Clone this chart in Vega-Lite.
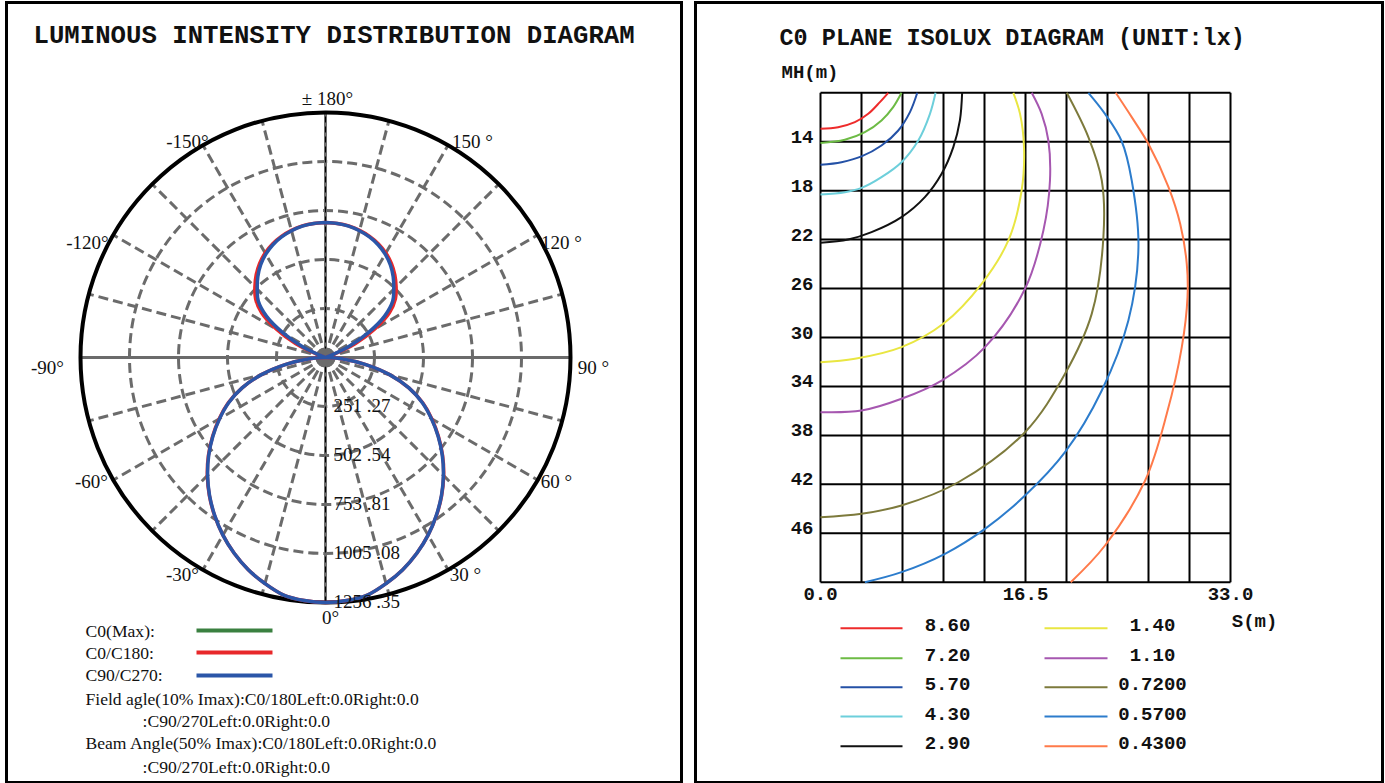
{
"$schema": "https://vega.github.io/schema/vega-lite/v6.json",
"background": "white",
"padding": {"left": 4.5, "top": 0.5, "right": 1.5, "bottom": 0},
"spacing": 10,
"resolve": {"scale": {"color": "independent", "size": "independent"}},
"config": {"view": {"stroke": "#000", "strokeWidth": 3}},
"datasets": {
"lobes": [
{"s":"B","a":-180,"cd":692},{"s":"B","a":-175,"cd":690},{"s":"B","a":-170,"cd":684},{"s":"B","a":-165,"cd":673},{"s":"B","a":-160,"cd":658},{"s":"B","a":-155,"cd":638},{"s":"B","a":-150,"cd":612},{"s":"B","a":-145,"cd":580},{"s":"B","a":-140,"cd":540},{"s":"B","a":-135,"cd":495},{"s":"B","a":-130,"cd":450},{"s":"B","a":-125,"cd":370},{"s":"B","a":-120,"cd":250},{"s":"B","a":-115,"cd":125},{"s":"B","a":-110,"cd":5},{"s":"B","a":-105,"cd":0},{"s":"B","a":-100,"cd":0},{"s":"B","a":-95,"cd":0},{"s":"B","a":-90,"cd":10},{"s":"B","a":-85,"cd":90},{"s":"B","a":-80,"cd":210},{"s":"B","a":-75,"cd":340},{"s":"B","a":-70,"cd":455},{"s":"B","a":-65,"cd":548},{"s":"B","a":-60,"cd":627},{"s":"B","a":-55,"cd":705},{"s":"B","a":-50,"cd":782},{"s":"B","a":-45,"cd":855},{"s":"B","a":-40,"cd":925},{"s":"B","a":-35,"cd":990},{"s":"B","a":-30,"cd":1052},{"s":"B","a":-25,"cd":1108},{"s":"B","a":-20,"cd":1158},{"s":"B","a":-15,"cd":1200},{"s":"B","a":-10,"cd":1237},{"s":"B","a":-5,"cd":1251},
{"s":"B","a":0,"cd":1256.35},{"s":"B","a":5,"cd":1251},{"s":"B","a":10,"cd":1237},{"s":"B","a":15,"cd":1200},{"s":"B","a":20,"cd":1158},{"s":"B","a":25,"cd":1108},{"s":"B","a":30,"cd":1052},{"s":"B","a":35,"cd":990},{"s":"B","a":40,"cd":925},{"s":"B","a":45,"cd":855},{"s":"B","a":50,"cd":782},{"s":"B","a":55,"cd":705},{"s":"B","a":60,"cd":627},{"s":"B","a":65,"cd":548},{"s":"B","a":70,"cd":455},{"s":"B","a":75,"cd":340},{"s":"B","a":80,"cd":210},{"s":"B","a":85,"cd":90},{"s":"B","a":90,"cd":10},{"s":"B","a":95,"cd":0},{"s":"B","a":100,"cd":0},{"s":"B","a":105,"cd":0},{"s":"B","a":110,"cd":5},{"s":"B","a":115,"cd":125},{"s":"B","a":120,"cd":250},{"s":"B","a":125,"cd":370},{"s":"B","a":130,"cd":450},{"s":"B","a":135,"cd":495},{"s":"B","a":140,"cd":540},{"s":"B","a":145,"cd":580},{"s":"B","a":150,"cd":612},{"s":"B","a":155,"cd":638},{"s":"B","a":160,"cd":658},{"s":"B","a":165,"cd":673},{"s":"B","a":170,"cd":684},{"s":"B","a":175,"cd":690},{"s":"B","a":180,"cd":692},
{"s":"R","a":-180,"cd":692},{"s":"R","a":-175,"cd":690},{"s":"R","a":-170,"cd":685},{"s":"R","a":-165,"cd":675},{"s":"R","a":-160,"cd":661},{"s":"R","a":-155,"cd":643},{"s":"R","a":-150,"cd":619},{"s":"R","a":-145,"cd":589},{"s":"R","a":-140,"cd":553},{"s":"R","a":-135,"cd":512},{"s":"R","a":-130,"cd":468},{"s":"R","a":-125,"cd":400},{"s":"R","a":-120,"cd":290},{"s":"R","a":-115,"cd":170},{"s":"R","a":-110,"cd":35},{"s":"R","a":-105,"cd":3},{"s":"R","a":-100,"cd":0},{"s":"R","a":-95,"cd":0},{"s":"R","a":-90,"cd":10},{"s":"R","a":-85,"cd":90},{"s":"R","a":-80,"cd":210},{"s":"R","a":-75,"cd":340},{"s":"R","a":-70,"cd":455},{"s":"R","a":-65,"cd":550},{"s":"R","a":-60,"cd":630},{"s":"R","a":-55,"cd":707},{"s":"R","a":-50,"cd":784},{"s":"R","a":-45,"cd":857},{"s":"R","a":-40,"cd":926},{"s":"R","a":-35,"cd":991},{"s":"R","a":-30,"cd":1052},{"s":"R","a":-25,"cd":1108},{"s":"R","a":-20,"cd":1158},{"s":"R","a":-15,"cd":1200},{"s":"R","a":-10,"cd":1237},{"s":"R","a":-5,"cd":1251},
{"s":"R","a":0,"cd":1256.35},{"s":"R","a":5,"cd":1251},{"s":"R","a":10,"cd":1237},{"s":"R","a":15,"cd":1200},{"s":"R","a":20,"cd":1158},{"s":"R","a":25,"cd":1108},{"s":"R","a":30,"cd":1052},{"s":"R","a":35,"cd":991},{"s":"R","a":40,"cd":926},{"s":"R","a":45,"cd":857},{"s":"R","a":50,"cd":784},{"s":"R","a":55,"cd":707},{"s":"R","a":60,"cd":630},{"s":"R","a":65,"cd":550},{"s":"R","a":70,"cd":455},{"s":"R","a":75,"cd":340},{"s":"R","a":80,"cd":210},{"s":"R","a":85,"cd":90},{"s":"R","a":90,"cd":10},{"s":"R","a":95,"cd":0},{"s":"R","a":100,"cd":0},{"s":"R","a":105,"cd":3},{"s":"R","a":110,"cd":35},{"s":"R","a":115,"cd":170},{"s":"R","a":120,"cd":290},{"s":"R","a":125,"cd":400},{"s":"R","a":130,"cd":468},{"s":"R","a":135,"cd":512},{"s":"R","a":140,"cd":553},{"s":"R","a":145,"cd":589},{"s":"R","a":150,"cd":619},{"s":"R","a":155,"cd":643},{"s":"R","a":160,"cd":661},{"s":"R","a":165,"cd":675},{"s":"R","a":170,"cd":685},{"s":"R","a":175,"cd":690},{"s":"R","a":180,"cd":692}
]
},
"hconcat": [
{
"width": 675, "height": 780,
"layer": [
{
"data": {"values": [{"r":251.27,"cx":0,"cy":0},{"r":502.54,"cx":0,"cy":0},{"r":753.81,"cx":0,"cy":0},{"r":1005.08,"cx":0,"cy":0}]},
"mark": {"type": "point", "shape": "circle", "filled": false, "stroke": "#6b6b6b", "strokeWidth": 3, "strokeDash": [10, 5], "opacity": 1},
"encoding": {
"x": {"field": "cx", "type": "quantitative", "axis": null, "scale": {"domain": [-1635.8, 1825.5], "nice": false, "zero": false}},
"y": {"field": "cy", "type": "quantitative", "axis": null, "scale": {"domain": [-2179.4, 1820.4], "nice": false, "zero": false}},
"size": {"field": "r", "type": "quantitative", "legend": null, "scale": {"type": "pow", "exponent": 2, "domain": [0, 1256.35], "range": [0, 240100]}}
}
},
{
"data": {"values": [{"a":15},{"a":30},{"a":45},{"a":60},{"a":75},{"a":105},{"a":120},{"a":135},{"a":150},{"a":165},{"a":195},{"a":210},{"a":225},{"a":240},{"a":255},{"a":285},{"a":300},{"a":315},{"a":330},{"a":345}]},
"transform": [
{"calculate": "1256.35*sin(datum.a*PI/180)", "as": "sx"},
{"calculate": "-1256.35*cos(datum.a*PI/180)", "as": "sy"},
{"calculate": "0", "as": "o"}
],
"mark": {"type": "rule", "stroke": "#6b6b6b", "strokeWidth": 3, "strokeDash": [10, 5]},
"encoding": {
"x": {"field": "o", "type": "quantitative", "axis": null, "scale": {"domain": [-1635.8, 1825.5], "nice": false, "zero": false}},
"y": {"field": "o", "type": "quantitative", "axis": null, "scale": {"domain": [-2179.4, 1820.4], "nice": false, "zero": false}},
"x2": {"field": "sx"},
"y2": {"field": "sy"}
}
},
{
"data": {"values": [{"x1": -1256.35, "x2": 1256.35, "y1": 0, "y2": 0}, {"x1": 0, "x2": 0, "y1": -1256.35, "y2": 1256.35}]},
"mark": {"type": "rule", "stroke": "#6b6b6b", "strokeWidth": 3},
"encoding": {
"x": {"field": "x1", "type": "quantitative", "axis": null, "scale": {"domain": [-1635.8, 1825.5], "nice": false, "zero": false}},
"y": {"field": "y1", "type": "quantitative", "axis": null, "scale": {"domain": [-2179.4, 1820.4], "nice": false, "zero": false}},
"x2": {"field": "x2"},
"y2": {"field": "y2"}
}
},
{
"data": {"values": [{"x1": 0, "x2": 0, "y1": -1256.35, "y2": 1256.35}]},
"mark": {"type": "rule", "stroke": "#000", "strokeWidth": 1, "strokeDash": [6, 4]},
"encoding": {
"x": {"field": "x1", "type": "quantitative", "axis": null, "scale": {"domain": [-1635.8, 1825.5], "nice": false, "zero": false}},
"y": {"field": "y1", "type": "quantitative", "axis": null, "scale": {"domain": [-2179.4, 1820.4], "nice": false, "zero": false}},
"x2": {"field": "x2"},
"y2": {"field": "y2"}
}
},
{
"data": {"values": [{"r":1256.35,"cx":0,"cy":0}]},
"mark": {"type": "point", "shape": "circle", "filled": false, "stroke": "#000", "strokeWidth": 4, "opacity": 1},
"encoding": {
"x": {"field": "cx", "type": "quantitative", "axis": null, "scale": {"domain": [-1635.8, 1825.5], "nice": false, "zero": false}},
"y": {"field": "cy", "type": "quantitative", "axis": null, "scale": {"domain": [-2179.4, 1820.4], "nice": false, "zero": false}},
"size": {"field": "r", "type": "quantitative", "legend": null, "scale": {"type": "pow", "exponent": 2, "domain": [0, 1256.35], "range": [0, 240100]}}
}
},
{
"data": {"values": [{"cx": 0, "cy": 0}]},
"mark": {"type": "point", "shape": "circle", "filled": true, "fill": "#6b6b6b", "size": 320, "opacity": 1},
"encoding": {
"x": {"field": "cx", "type": "quantitative", "axis": null, "scale": {"domain": [-1635.8, 1825.5], "nice": false, "zero": false}},
"y": {"field": "cy", "type": "quantitative", "axis": null, "scale": {"domain": [-2179.4, 1820.4], "nice": false, "zero": false}}
}
},
{
"data": {"name": "lobes"},
"transform": [
{"filter": "datum.s == 'R'"},
{"calculate": "datum.cd*sin(datum.a*PI/180)", "as": "x"},
{"calculate": "-datum.cd*cos(datum.a*PI/180)", "as": "y"}
],
"mark": {"type": "line", "stroke": "#e8282a", "strokeWidth": 3.5, "interpolate": "catmull-rom"},
"encoding": {
"x": {"field": "x", "type": "quantitative", "axis": null, "scale": {"domain": [-1635.8, 1825.5], "nice": false, "zero": false}},
"y": {"field": "y", "type": "quantitative", "axis": null, "scale": {"domain": [-2179.4, 1820.4], "nice": false, "zero": false}},
"order": {"field": "a", "type": "quantitative"}
}
},
{
"data": {"name": "lobes"},
"transform": [
{"filter": "datum.s == 'B'"},
{"calculate": "datum.cd*sin(datum.a*PI/180)", "as": "x"},
{"calculate": "-datum.cd*cos(datum.a*PI/180)", "as": "y"}
],
"mark": {"type": "line", "stroke": "#2b56a8", "strokeWidth": 3.5, "interpolate": "catmull-rom"},
"encoding": {
"x": {"field": "x", "type": "quantitative", "axis": null, "scale": {"domain": [-1635.8, 1825.5], "nice": false, "zero": false}},
"y": {"field": "y", "type": "quantitative", "axis": null, "scale": {"domain": [-2179.4, 1820.4], "nice": false, "zero": false}},
"order": {"field": "a", "type": "quantitative"}
}
},
{
"data": {"values": [
{"t":"± 180°","x":10.3,"y":1328.1},{"t":"150 °","x":753.8,"y":1107.6},{"t":"-150°","x":-707.7,"y":1107.6},
{"t":"120 °","x":1210.2,"y":584.6},{"t":"-120°","x":-1220.4,"y":584.6},{"t":"90 °","x":1374.3,"y":-56.4},
{"t":"-90°","x":-1425.6,"y":-56.4},{"t":"60 °","x":1184.6,"y":-641.0},{"t":"-60°","x":-1200.0,"y":-641.0},
{"t":"30 °","x":717.9,"y":-1117.9},{"t":"-30°","x":-733.3,"y":-1117.9},{"t":"0°","x":25.6,"y":-1333.3}
]},
"mark": {"type": "text", "font": "Liberation Serif", "fontSize": 19, "align": "center", "baseline": "middle", "color": "#111"},
"encoding": {
"x": {"field": "x", "type": "quantitative", "axis": null, "scale": {"domain": [-1635.8, 1825.5], "nice": false, "zero": false}},
"y": {"field": "y", "type": "quantitative", "axis": null, "scale": {"domain": [-2179.4, 1820.4], "nice": false, "zero": false}},
"text": {"field": "t"}
}
},
{
"data": {"values": [{"t":"251 .27","r":251.27},{"t":"502 .54","r":502.54},{"t":"753 .81","r":753.81},{"t":"1005 .08","r":1005.08},{"t":"1256 .35","r":1256.35}]},
"transform": [{"calculate": "-datum.r", "as": "y"}, {"calculate": "41", "as": "x"}],
"mark": {"type": "text", "font": "Liberation Serif", "fontSize": 19, "align": "left", "baseline": "middle", "color": "#111"},
"encoding": {
"x": {"field": "x", "type": "quantitative", "axis": null, "scale": {"domain": [-1635.8, 1825.5], "nice": false, "zero": false}},
"y": {"field": "y", "type": "quantitative", "axis": null, "scale": {"domain": [-2179.4, 1820.4], "nice": false, "zero": false}},
"text": {"field": "t"}
}
},
{
"data": {"values": [{"t":"LUMINOUS INTENSITY DISTRIBUTION DIAGRAM","x":-1497.4,"y":1656.3}]},
"mark": {"type": "text", "font": "Liberation Mono", "fontWeight": "bold", "fontSize": 25.7, "align": "left", "baseline": "middle", "color": "#111"},
"encoding": {
"x": {"field": "x", "type": "quantitative", "axis": null, "scale": {"domain": [-1635.8, 1825.5], "nice": false, "zero": false}},
"y": {"field": "y", "type": "quantitative", "axis": null, "scale": {"domain": [-2179.4, 1820.4], "nice": false, "zero": false}},
"text": {"field": "t"}
}
},
{
"data": {"values": [
{"k":"C0(Max)","x1":-661.5,"x2":-271.8,"y":-1399.9},
{"k":"C0/C180","x1":-661.5,"x2":-271.8,"y":-1512.7},
{"k":"C90/C270","x1":-661.5,"x2":-271.8,"y":-1630.7}
]},
"mark": {"type": "rule", "strokeWidth": 4},
"encoding": {
"x": {"field": "x1", "type": "quantitative", "axis": null, "scale": {"domain": [-1635.8, 1825.5], "nice": false, "zero": false}},
"y": {"field": "y", "type": "quantitative", "axis": null, "scale": {"domain": [-2179.4, 1820.4], "nice": false, "zero": false}},
"x2": {"field": "x2"},
"color": {"field": "k", "type": "nominal", "legend": null, "scale": {"domain": ["C0(Max)", "C0/C180", "C90/C270"], "range": ["#3a8040", "#e8282a", "#2b56a8"]}}
}
},
{
"data": {"values": [
{"t":"C0(Max):","x":-1230.7,"y":-1410.2},
{"t":"C0/C180:","x":-1230.7,"y":-1517.9},
{"t":"C90/C270:","x":-1230.7,"y":-1635.8},
{"t":"Field agle(10% Imax):C0/180Left:0.0Right:0.0","x":-1230.7,"y":-1753.8},
{"t":":C90/270Left:0.0Right:0.0","x":-938.4,"y":-1866.6},
{"t":"Beam Angle(50% Imax):C0/180Left:0.0Right:0.0","x":-1230.7,"y":-1984.5},
{"t":":C90/270Left:0.0Right:0.0","x":-938.4,"y":-2102.5}
]},
"mark": {"type": "text", "font": "Liberation Serif", "fontSize": 17.6, "align": "left", "baseline": "middle", "color": "#111"},
"encoding": {
"x": {"field": "x", "type": "quantitative", "axis": null, "scale": {"domain": [-1635.8, 1825.5], "nice": false, "zero": false}},
"y": {"field": "y", "type": "quantitative", "axis": null, "scale": {"domain": [-2179.4, 1820.4], "nice": false, "zero": false}},
"text": {"field": "t"}
}
}
]
},
{
"width": 687, "height": 780,
"layer": [
{
"data": {"values": [{"s":0},{"s":3.3},{"s":6.6},{"s":9.9},{"s":13.2},{"s":16.5},{"s":19.8},{"s":23.1},{"s":26.4},{"s":29.7},{"s":33}]},
"transform": [{"calculate": "10", "as": "t"}, {"calculate": "50", "as": "b"}],
"mark": {"type": "rule", "stroke": "#000", "strokeWidth": 2},
"encoding": {
"x": {"field": "s", "type": "quantitative", "axis": null, "scale": {"domain": [-10.061, 45.234], "nice": false, "zero": false}},
"y": {"field": "t", "type": "quantitative", "axis": null, "scale": {"domain": [2.62, 66.37], "reverse": true, "nice": false, "zero": false}},
"y2": {"field": "b"}
}
},
{
"data": {"values": [{"mh":10},{"mh":14},{"mh":18},{"mh":22},{"mh":26},{"mh":30},{"mh":34},{"mh":38},{"mh":42},{"mh":46},{"mh":50}]},
"transform": [{"calculate": "0", "as": "l"}, {"calculate": "33", "as": "r"}],
"mark": {"type": "rule", "stroke": "#000", "strokeWidth": 2},
"encoding": {
"x": {"field": "l", "type": "quantitative", "axis": null, "scale": {"domain": [-10.061, 45.234], "nice": false, "zero": false}},
"x2": {"field": "r"},
"y": {"field": "mh", "type": "quantitative", "axis": null, "scale": {"domain": [2.62, 66.37], "reverse": true, "nice": false, "zero": false}}
}
},
{
"data": {"values": [
{"lux":"8.60","i":0,"s":0,"mh":12.94},{"lux":"8.60","i":1,"s":1.42,"mh":12.81},{"lux":"8.60","i":2,"s":2.77,"mh":12.40},{"lux":"8.60","i":3,"s":3.84,"mh":11.72},{"lux":"8.60","i":4,"s":4.78,"mh":10.76},{"lux":"8.60","i":5,"s":5.45,"mh":10},
{"lux":"7.20","i":0,"s":0,"mh":14.11},{"lux":"7.20","i":1,"s":1.96,"mh":13.84},{"lux":"7.20","i":2,"s":3.57,"mh":13.22},{"lux":"7.20","i":3,"s":4.91,"mh":12.26},{"lux":"7.20","i":4,"s":5.85,"mh":11.17},{"lux":"7.20","i":5,"s":6.52,"mh":10},
{"lux":"5.70","i":0,"s":0,"mh":15.89},{"lux":"5.70","i":1,"s":1.69,"mh":15.67},{"lux":"5.70","i":2,"s":3.30,"mh":15.20},{"lux":"5.70","i":3,"s":4.91,"mh":14.31},{"lux":"5.70","i":4,"s":6.26,"mh":13.08},{"lux":"5.70","i":5,"s":7.20,"mh":11.58},{"lux":"5.70","i":6,"s":7.79,"mh":10},
{"lux":"4.30","i":0,"s":0,"mh":18.31},{"lux":"4.30","i":1,"s":1.96,"mh":18.12},{"lux":"4.30","i":2,"s":3.30,"mh":17.77},{"lux":"4.30","i":3,"s":4.91,"mh":16.89},{"lux":"4.30","i":4,"s":6.52,"mh":15.67},{"lux":"4.30","i":5,"s":7.87,"mh":13.90},{"lux":"4.30","i":6,"s":8.81,"mh":11.72},{"lux":"4.30","i":7,"s":9.26,"mh":10},
{"lux":"2.90","i":0,"s":0,"mh":22.26},{"lux":"2.90","i":1,"s":2.23,"mh":21.99},{"lux":"2.90","i":2,"s":4.11,"mh":21.39},{"lux":"2.90","i":3,"s":6.52,"mh":20.16},{"lux":"2.90","i":4,"s":8.40,"mh":18.53},{"lux":"2.90","i":5,"s":9.75,"mh":16.62},{"lux":"2.90","i":6,"s":10.69,"mh":14.44},{"lux":"2.90","i":7,"s":11.22,"mh":12.26},{"lux":"2.90","i":8,"s":11.40,"mh":10},
{"lux":"1.40","i":0,"s":0,"mh":32.02},{"lux":"1.40","i":1,"s":2.77,"mh":31.74},{"lux":"1.40","i":2,"s":6.52,"mh":30.79},{"lux":"1.40","i":3,"s":9.88,"mh":28.88},{"lux":"1.40","i":4,"s":12.97,"mh":25.61},{"lux":"1.40","i":5,"s":15.12,"mh":22.07},{"lux":"1.40","i":6,"s":16.19,"mh":17.98},{"lux":"1.40","i":7,"s":16.38,"mh":14.44},{"lux":"1.40","i":8,"s":16.06,"mh":11.72},{"lux":"1.40","i":9,"s":15.52,"mh":10},
{"lux":"1.10","i":0,"s":0,"mh":36.10},{"lux":"1.10","i":1,"s":3.30,"mh":35.97},{"lux":"1.10","i":2,"s":6.52,"mh":35.01},{"lux":"1.10","i":3,"s":9.75,"mh":33.52},{"lux":"1.10","i":4,"s":13.24,"mh":30.79},{"lux":"1.10","i":5,"s":16.46,"mh":26.02},{"lux":"1.10","i":6,"s":17.94,"mh":21.25},{"lux":"1.10","i":7,"s":18.47,"mh":17.17},{"lux":"1.10","i":8,"s":18.34,"mh":13.90},{"lux":"1.10","i":9,"s":17.80,"mh":11.72},{"lux":"1.10","i":10,"s":17.00,"mh":10},
{"lux":"0.7200","i":0,"s":0,"mh":44.69},{"lux":"0.7200","i":1,"s":3.30,"mh":44.41},{"lux":"0.7200","i":2,"s":6.52,"mh":43.73},{"lux":"0.7200","i":3,"s":11.09,"mh":41.83},{"lux":"0.7200","i":4,"s":16.46,"mh":37.74},{"lux":"0.7200","i":5,"s":19.68,"mh":32.97},{"lux":"0.7200","i":6,"s":21.83,"mh":28.07},{"lux":"0.7200","i":7,"s":22.77,"mh":21.80},{"lux":"0.7200","i":8,"s":22.64,"mh":17.17},{"lux":"0.7200","i":9,"s":21.56,"mh":13.62},{"lux":"0.7200","i":10,"s":19.82,"mh":10},
{"lux":"0.5700","i":0,"s":3.57,"mh":50},{"lux":"0.5700","i":1,"s":6.52,"mh":49.18},{"lux":"0.5700","i":2,"s":10.02,"mh":47.68},{"lux":"0.5700","i":3,"s":13.24,"mh":45.64},{"lux":"0.5700","i":4,"s":16.46,"mh":42.92},{"lux":"0.5700","i":5,"s":19.68,"mh":39.37},{"lux":"0.5700","i":6,"s":22.64,"mh":34.33},{"lux":"0.5700","i":7,"s":24.78,"mh":28.61},{"lux":"0.5700","i":8,"s":25.59,"mh":22.62},{"lux":"0.5700","i":9,"s":25.05,"mh":17.17},{"lux":"0.5700","i":10,"s":24.25,"mh":13.98},{"lux":"0.5700","i":11,"s":22.90,"mh":11.72},{"lux":"0.5700","i":12,"s":21.56,"mh":10},
{"lux":"0.4300","i":0,"s":20.14,"mh":50},{"lux":"0.4300","i":1,"s":22.90,"mh":47.00},{"lux":"0.4300","i":2,"s":26.13,"mh":41.69},{"lux":"0.4300","i":3,"s":27.87,"mh":36.24},{"lux":"0.4300","i":4,"s":29.08,"mh":30.79},{"lux":"0.4300","i":5,"s":29.54,"mh":26.70},{"lux":"0.4300","i":6,"s":29.48,"mh":23.98},{"lux":"0.4300","i":7,"s":28.95,"mh":20.71},{"lux":"0.4300","i":8,"s":28.01,"mh":17.71},{"lux":"0.4300","i":9,"s":26.39,"mh":14.17},{"lux":"0.4300","i":10,"s":25.05,"mh":11.99},{"lux":"0.4300","i":11,"s":23.76,"mh":10}
]},
"mark": {"type": "line", "strokeWidth": 2, "interpolate": "catmull-rom"},
"encoding": {
"x": {"field": "s", "type": "quantitative", "axis": null, "scale": {"domain": [-10.061, 45.234], "nice": false, "zero": false}},
"y": {"field": "mh", "type": "quantitative", "axis": null, "scale": {"domain": [2.62, 66.37], "reverse": true, "nice": false, "zero": false}},
"order": {"field": "i", "type": "quantitative"},
"color": {"field": "lux", "type": "nominal", "legend": null, "scale": {"domain": ["8.60","7.20","5.70","4.30","2.90","1.40","1.10","0.7200","0.5700","0.4300"], "range": ["#ee2b2b","#6dbb45","#2451a6","#6dcfdb","#111111","#e9e642","#a657b0","#7d7a3c","#2c7ccc","#ff7a4a"]}}
}
},
{
"data": {"values": [
{"lux":"8.60","x1":1.61,"x2":6.60,"y":53.76},
{"lux":"7.20","x1":1.61,"x2":6.60,"y":56.21},
{"lux":"5.70","x1":1.61,"x2":6.60,"y":58.58},
{"lux":"4.30","x1":1.61,"x2":6.60,"y":60.98},
{"lux":"2.90","x1":1.61,"x2":6.60,"y":63.41},
{"lux":"1.40","x1":18.03,"x2":23.10,"y":53.76},
{"lux":"1.10","x1":18.03,"x2":23.10,"y":56.21},
{"lux":"0.7200","x1":18.03,"x2":23.10,"y":58.58},
{"lux":"0.5700","x1":18.03,"x2":23.10,"y":60.98},
{"lux":"0.4300","x1":18.03,"x2":23.10,"y":63.41}
]},
"mark": {"type": "rule", "strokeWidth": 2},
"encoding": {
"x": {"field": "x1", "type": "quantitative", "axis": null, "scale": {"domain": [-10.061, 45.234], "nice": false, "zero": false}},
"x2": {"field": "x2"},
"y": {"field": "y", "type": "quantitative", "axis": null, "scale": {"domain": [2.62, 66.37], "reverse": true, "nice": false, "zero": false}},
"color": {"field": "lux", "type": "nominal", "legend": null, "scale": {"domain": ["8.60","7.20","5.70","4.30","2.90","1.40","1.10","0.7200","0.5700","0.4300"], "range": ["#ee2b2b","#6dbb45","#2451a6","#6dcfdb","#111111","#e9e642","#a657b0","#7d7a3c","#2c7ccc","#ff7a4a"]}}
}
},
{
"data": {"values": [
{"lux":"8.60","tx":10.22,"y":53.76},
{"lux":"7.20","tx":10.22,"y":56.21},
{"lux":"5.70","tx":10.22,"y":58.58},
{"lux":"4.30","tx":10.22,"y":60.98},
{"lux":"2.90","tx":10.22,"y":63.41},
{"lux":"1.40","tx":26.72,"y":53.76},
{"lux":"1.10","tx":26.72,"y":56.21},
{"lux":"0.7200","tx":26.72,"y":58.58},
{"lux":"0.5700","tx":26.72,"y":60.98},
{"lux":"0.4300","tx":26.72,"y":63.41}
]},
"mark": {"type": "text", "font": "Liberation Mono", "fontWeight": "bold", "fontSize": 19, "align": "center", "baseline": "middle", "dy": -3, "color": "#111"},
"encoding": {
"x": {"field": "tx", "type": "quantitative", "axis": null, "scale": {"domain": [-10.061, 45.234], "nice": false, "zero": false}},
"y": {"field": "y", "type": "quantitative", "axis": null, "scale": {"domain": [2.62, 66.37], "reverse": true, "nice": false, "zero": false}},
"text": {"field": "lux"}
}
},
{
"data": {"values": [{"t":"14","mh":14},{"t":"18","mh":18},{"t":"22","mh":22},{"t":"26","mh":26},{"t":"30","mh":30},{"t":"34","mh":34},{"t":"38","mh":38},{"t":"42","mh":42},{"t":"46","mh":46}]},
"transform": [{"calculate": "-0.563", "as": "x"}],
"mark": {"type": "text", "font": "Liberation Mono", "fontWeight": "bold", "fontSize": 19, "align": "right", "baseline": "alphabetic", "dy": 1, "color": "#111"},
"encoding": {
"x": {"field": "x", "type": "quantitative", "axis": null, "scale": {"domain": [-10.061, 45.234], "nice": false, "zero": false}},
"y": {"field": "mh", "type": "quantitative", "axis": null, "scale": {"domain": [2.62, 66.37], "reverse": true, "nice": false, "zero": false}},
"text": {"field": "t"}
}
},
{
"data": {"values": [{"t":"0.0","s":0},{"t":"16.5","s":16.5},{"t":"33.0","s":33}]},
"transform": [{"calculate": "50", "as": "y"}],
"mark": {"type": "text", "font": "Liberation Mono", "fontWeight": "bold", "fontSize": 19, "align": "center", "baseline": "middle", "dy": 12, "color": "#111"},
"encoding": {
"x": {"field": "s", "type": "quantitative", "axis": null, "scale": {"domain": [-10.061, 45.234], "nice": false, "zero": false}},
"y": {"field": "y", "type": "quantitative", "axis": null, "scale": {"domain": [2.62, 66.37], "reverse": true, "nice": false, "zero": false}},
"text": {"field": "t"}
}
},
{
"data": {"values": [{"t":"C0 PLANE ISOLUX DIAGRAM (UNIT:lx)","x":-3.30,"y":5.56}]},
"mark": {"type": "text", "font": "Liberation Mono", "fontWeight": "bold", "fontSize": 23.5, "align": "left", "baseline": "middle", "color": "#111"},
"encoding": {
"x": {"field": "x", "type": "quantitative", "axis": null, "scale": {"domain": [-10.061, 45.234], "nice": false, "zero": false}},
"y": {"field": "y", "type": "quantitative", "axis": null, "scale": {"domain": [2.62, 66.37], "reverse": true, "nice": false, "zero": false}},
"text": {"field": "t"}
}
},
{
"data": {"values": [{"t":"MH(m)","x":-3.14,"y":8.34},{"t":"S(m)","x":33.1,"y":53.21}]},
"mark": {"type": "text", "font": "Liberation Mono", "fontWeight": "bold", "fontSize": 19, "align": "left", "baseline": "middle", "color": "#111"},
"encoding": {
"x": {"field": "x", "type": "quantitative", "axis": null, "scale": {"domain": [-10.061, 45.234], "nice": false, "zero": false}},
"y": {"field": "y", "type": "quantitative", "axis": null, "scale": {"domain": [2.62, 66.37], "reverse": true, "nice": false, "zero": false}},
"text": {"field": "t"}
}
}
]
}
]
}
